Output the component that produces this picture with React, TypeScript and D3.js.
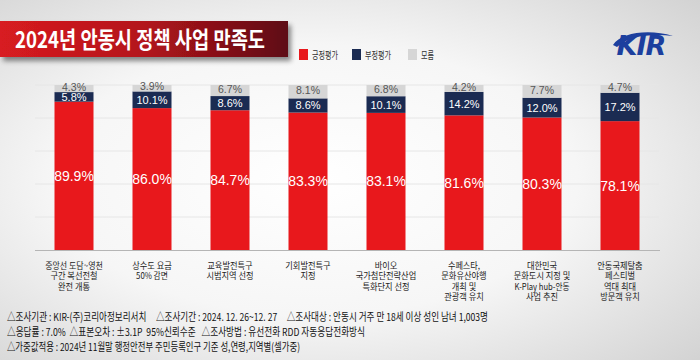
import React from "react";
import * as d3 from "d3";

const categories: string[][] = [
  ["중앙선 도담~영천", "구간 복선전철", "완전 개통"],
  ["상수도 요금", "50% 감면"],
  ["교육발전특구", "시범지역 선정"],
  ["기회발전특구", "지정"],
  ["바이오", "국가첨단전략산업", "특화단지 선정"],
  ["수페스타,", "문화유산야행", "개최 및", "관광객 유치"],
  ["대한민국", "문화도시 지정 및", "K-Play hub-안동", "사업 추진"],
  ["안동국제탈춤", "페스티벌", "역대 최대", "방문객 유치"],
];
const positive = [89.9, 86.0, 84.7, 83.3, 83.1, 81.6, 80.3, 78.1];
const negative = [5.8, 10.1, 8.6, 8.6, 10.1, 14.2, 12.0, 17.2];
const unknown = [4.3, 3.9, 6.7, 8.1, 6.8, 4.2, 7.7, 4.7];
const seriesNames = ["긍정평가", "부정평가", "모름"];
const title = "2024년 안동시 정책 사업 만족도";
const notes = [
  "△조사기관 : KIR-(주)코리아정보리서치     △조사기간 : 2024. 12. 26~12. 27     △조사대상 : 안동시 거주 만 18세 이상 성인 남녀 1,003명",
  "△응답률 : 7.0%  △표본오차 : ±3.1P  95%신뢰수준   △조사방법 : 유선전화 RDD 자동응답전화방식",
  "△가중값적용 : 2024년 11월말 행정안전부 주민등록인구 기준 성,연령,지역별(셀가중)",
];
const noteWidths = [481, 358, 293];
const gridTicks = [20, 40, 60, 80, 100];

const W = 700;
const H = 360;
const RED = "#e8181c";
const NAVY = "#1b2b52";
const GRAY = "#d6d6d6";
const FONT = "'Noto Sans CJK KR', 'Noto Sans', sans-serif";

// rough width estimate (in em) for condensing labels with textLength
function estEm(s: string): number {
  let w = 0;
  for (const ch of s) {
    if (/[\uac00-\ud7a3]/.test(ch)) w += 1.0;
    else if (ch === " ") w += 0.23;
    else if (/[.,:;!|]/.test(ch)) w += 0.26;
    else if (/[-~()]/.test(ch)) w += 0.4;
    else if (/[A-Z]/.test(ch)) w += 0.62;
    else if (/[0-9%]/.test(ch)) w += ch === "%" ? 0.85 : 0.56;
    else w += 0.5;
  }
  return w;
}

export default function App() {
  const ids = categories.map((_, i) => String(i));
  const x = d3.scaleBand<string>().domain(ids).range([35, 659]).paddingInner(0.5).paddingOuter(0.25);
  const y = d3.scaleLinear().domain([0, 100]).range([250, 85]);
  const rows = ids.map((id, i) => ({ id, pos: positive[i], neg: negative[i], unk: unknown[i] }));
  const stack = d3.stack<any>().keys(["pos", "neg", "unk"])(rows);
  const colors = [RED, NAVY, GRAY];
  const bw = x.bandwidth();
  const catFs = 9;

  return (
    <svg width={W} height={H} style={{ display: "block", position: "absolute", left: 0, top: 0 }} fontFamily={FONT}>
      <defs>
        <radialGradient id="bg" cx="0.45" cy="0.5" r="0.75">
          <stop offset="0" stopColor="#ffffff" />
          <stop offset="0.5" stopColor="#f6f6f6" />
          <stop offset="1" stopColor="#d2d2d2" />
        </radialGradient>
        <linearGradient id="titleG" x1="0" x2="1" y1="0" y2="0">
          <stop offset="0" stopColor="#d81b20" />
          <stop offset="0.5" stopColor="#b3141c" />
          <stop offset="1" stopColor="#5e0c12" />
        </linearGradient>
        <filter id="sh" x="-5%" y="-30%" width="115%" height="180%">
          <feDropShadow dx="3" dy="4" stdDeviation="2.5" floodColor="#000" floodOpacity="0.45" />
        </filter>
      </defs>
      <rect x={0} y={0} width={W} height={H} fill="url(#bg)" />

      {/* title */}
      <rect x={0} y={21} width={288} height={36} fill="url(#titleG)" filter="url(#sh)" />
      <text x={15} y={48} fill="#fff" fontSize={23} fontWeight={700} textLength={250} lengthAdjust="spacingAndGlyphs">
        {title}
      </text>

      {/* legend */}
      {seriesNames.map((n, i) => {
        const lx = [299, 352, 408][i];
        const tw = [26, 26, 13][i];
        return (
          <g key={n}>
            <rect x={lx} y={49} width={9} height={11} fill={colors[i]} />
            <text x={lx + 13} y={58.5} fontSize={10} fill="#333" textLength={tw} lengthAdjust="spacingAndGlyphs">{n}</text>
          </g>
        );
      })}

      {/* logo */}
      <g>
        <text x={641} y={55} textAnchor="middle" fontSize={27} fontWeight={900} fontStyle="italic" fill="#1c3f9e" fontFamily="'DejaVu Sans', sans-serif" letterSpacing={-1}>
          KIR
        </text>
        <path d="M613,45 C621,32 650,29 673,36 C652,33 628,36 617,47 Z" fill="#1c3f9e" />
      </g>

      {/* grid */}
      {gridTicks.map((t) => (
        <line key={t} x1={35} x2={659} y1={y(t)} y2={y(t)} stroke="#e6e6e6" strokeWidth={1} />
      ))}

      {/* bars */}
      {stack.map((s, si) => (
        <g key={si}>
          {s.map((d, i) => (
            <rect key={i} x={x(ids[i])!} y={y(d[1])} width={bw} height={y(d[0]) - y(d[1])} fill={colors[si]} />
          ))}
        </g>
      ))}

      {/* labels */}
      {stack.map((s, si) =>
        s.map((d, i) => {
          const cx = x(ids[i])! + bw / 2;
          const cy = (y(d[0]) + y(d[1])) / 2 + (si === 2 ? -1.5 : 0);
          const v = (d[1] - d[0]).toFixed(1) + "%";
          const fs = si === 0 ? 14 : si === 1 ? 11 : 10.5;
          const fill = si === 2 ? "#555" : "#fff";
          return (
            <text key={`${si}-${i}`} x={cx} y={cy} dy="0.36em" textAnchor="middle" fontSize={fs} fill={fill} fontFamily="'Liberation Sans', Arial, sans-serif">
              {v}
            </text>
          );
        })
      )}

      {/* axis line */}
      <line x1={35} x2={660} y1={250.5} y2={250.5} stroke="#b5b5b5" strokeWidth={1} />

      {/* category labels */}
      {categories.map((lines, i) => {
        const cx = x(ids[i])! + bw / 2;
        return (
          <g key={i}>
            {lines.map((l, j) => (
              <text
                key={j}
                x={cx}
                y={268.5 + j * 10.6}
                textAnchor="middle"
                fontSize={catFs}
                fill="#222"
                textLength={estEm(l) * catFs * 0.84}
                lengthAdjust="spacingAndGlyphs"
              >
                {l}
              </text>
            ))}
          </g>
        );
      })}

      {/* notes */}
      {notes.map((n, i) => (
        <text key={i} x={7} y={321 + i * 15} fontSize={11} fill="#111" style={{ whiteSpace: "pre" }} textLength={noteWidths[i]} lengthAdjust="spacingAndGlyphs">
          {n}
        </text>
      ))}
    </svg>
  );
}
